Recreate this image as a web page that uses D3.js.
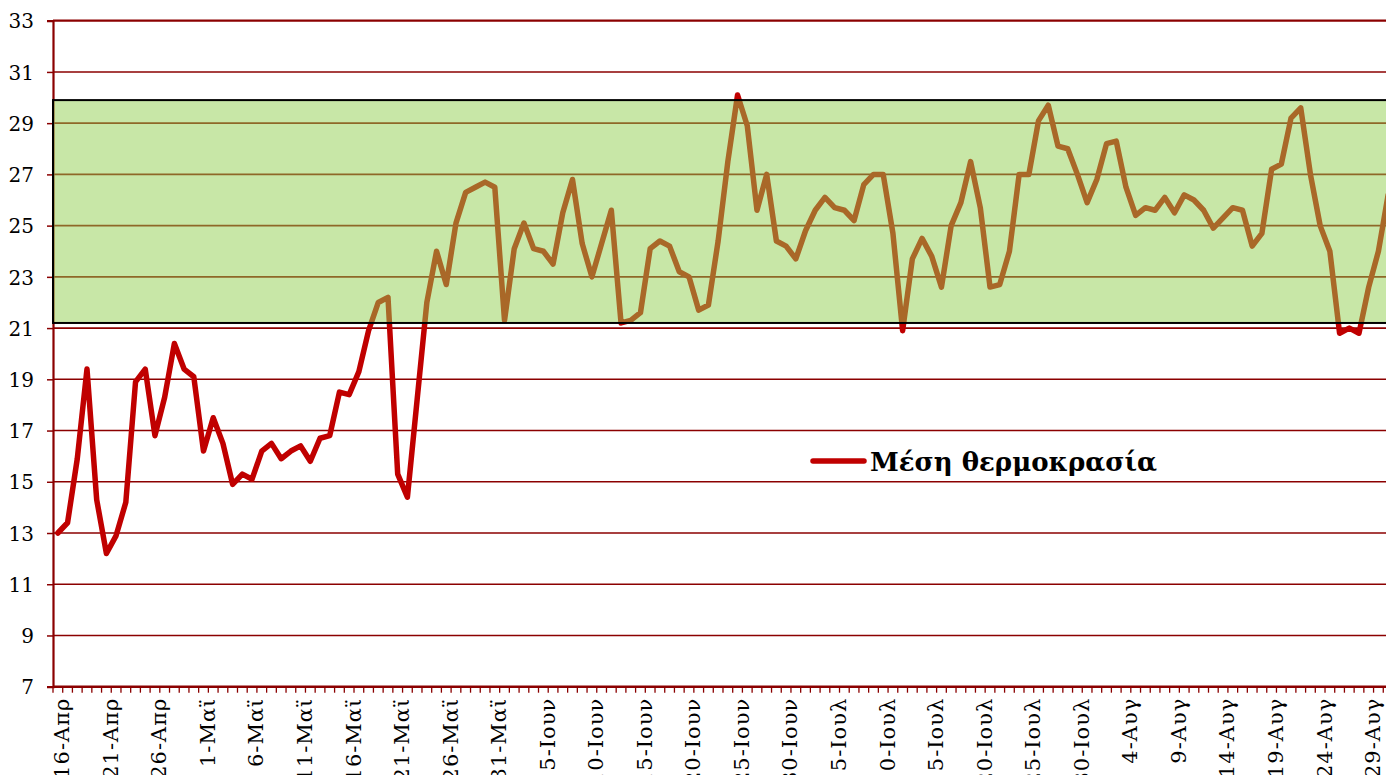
<!DOCTYPE html>
<html>
<head>
<meta charset="utf-8">
<script src="https://cdn.jsdelivr.net/npm/d3@7"></script>
<style>
    body { margin: 0; background: #fff; }
    svg { display: block; }
    .tickLabel text { font-family: "DejaVu Serif", serif; fill: #000; }
</style>
</head>
<body>
<svg></svg>
<script>
// daily mean temperature, 16 Apr -> 31 Aug
var startDate = new Date(2012, 3, 16);
var monthNames = ["Ιαν", "Φεβ", "Μαρ", "Απρ", "Μαϊ", "Ιουν", "Ιουλ", "Αυγ", "Σεπ", "Οκτ", "Νοε", "Δεκ"];
var temps = [
    13.0, 13.4, 15.9, 19.4, 14.3, 12.2, 12.9, 14.2, 18.9, 19.4,
    16.8, 18.3, 20.4, 19.4, 19.1, 16.2, 17.5, 16.5, 14.9, 15.3,
    15.1, 16.2, 16.5, 15.9, 16.2, 16.4, 15.8, 16.7, 16.8, 18.5,
    18.4, 19.3, 20.9, 22.0, 22.2, 15.3, 14.4, 18.2, 22.0, 24.0,
    22.7, 25.1, 26.3, 26.5, 26.7, 26.5, 21.3, 24.1, 25.1, 24.1,
    24.0, 23.5, 25.5, 26.8, 24.3, 23.0, 24.3, 25.6, 21.2, 21.3,
    21.6, 24.1, 24.4, 24.2, 23.2, 23.0, 21.7, 21.9, 24.4, 27.5,
    30.1, 28.9, 25.6, 27.0, 24.4, 24.2, 23.7, 24.8, 25.6, 26.1,
    25.7, 25.6, 25.2, 26.6, 27.0, 27.0, 24.7, 20.9, 23.7, 24.5,
    23.8, 22.6, 25.0, 25.9, 27.5, 25.7, 22.6, 22.7, 24.0, 27.0,
    27.0, 29.1, 29.7, 28.1, 28.0, 27.0, 25.9, 26.8, 28.2, 28.3,
    26.5, 25.4, 25.7, 25.6, 26.1, 25.5, 26.2, 26.0, 25.6, 24.9,
    25.3, 25.7, 25.6, 24.2, 24.7, 27.2, 27.4, 29.2, 29.6, 27.0,
    25.0, 24.0, 20.8, 21.0, 20.8, 22.6, 24.0, 26.2
];
var yTicks = [7, 9, 11, 13, 15, 17, 19, 21, 23, 25, 27, 29, 31, 33];
var comfortBand = [21.2, 29.9];
var seriesName = "Μέση θερμοκρασία";

var dates = temps.map(function (t, i) { return d3.timeDay.offset(startDate, i); });
var data = temps.map(function (t, i) { return { date: dates[i], t: t }; });

function fmtDate(d) {
    return d.getDate() + "-" + monthNames[d.getMonth()];
}

var svgWidth = 1386, svgHeight = 775;
var plotLeft = 53, plotTop = 20.7, plotBottom = 686.7;
var dayW = 9.71;

var svg = d3.select("svg")
    .attr("width", svgWidth)
    .attr("height", svgHeight);

var x = d3.scaleBand()
    .domain(dates)
    .range([plotLeft, plotLeft + dayW * dates.length])
    .padding(0);
var y = d3.scaleLinear().domain([7, 33]).range([plotBottom, plotTop]);

function cx(d) { return x(d) + x.bandwidth() / 2; }

// horizontal grid
svg.append("g")
    .selectAll("line")
    .data(yTicks.filter(function (v) { return v > 7; }))
    .enter()
    .append("line")
    .attr("x1", plotLeft)
    .attr("x2", svgWidth)
    .attr("y1", d => y(d))
    .attr("y2", d => y(d))
    .attr("stroke", "#8b0000")
    .attr("stroke-width", d => d === 33 ? 2.2 : 1.6);

// y axis
var yAxis = svg.append("g")
    .attr("class", "tickLabel")
    .attr("transform", "translate(" + plotLeft + ",0)")
    .call(d3.axisLeft(y).tickValues(yTicks).tickSize(6).tickPadding(13).tickFormat(d3.format("d")));
yAxis.select(".domain").attr("stroke", "#8b0000").attr("stroke-width", 2.2);
yAxis.selectAll(".tick line").attr("stroke", "#8b0000").attr("stroke-width", 1.5);
yAxis.selectAll(".tick text").attr("font-size", "20px").attr("dy", "0.36em");

// x axis : day ticks on category boundaries
svg.append("line")
    .attr("x1", plotLeft).attr("x2", svgWidth)
    .attr("y1", plotBottom).attr("y2", plotBottom)
    .attr("stroke", "#8b0000").attr("stroke-width", 2.4);

svg.append("g")
    .selectAll("line")
    .data(dates)
    .enter()
    .append("line")
    .attr("x1", d => x(d))
    .attr("x2", d => x(d))
    .attr("y1", plotBottom)
    .attr("y2", plotBottom + 6)
    .attr("stroke", "#8b0000")
    .attr("stroke-width", 1.3);

svg.append("g")
    .attr("class", "tickLabel")
    .selectAll("text")
    .data(dates.filter(function (d, i) { return i % 5 === 0; }))
    .enter()
    .append("text")
    .attr("transform", d => "translate(" + (cx(d) + 4) + "," + (plotBottom + 11) + ") rotate(-90)")
    .attr("text-anchor", "end")
    .attr("dy", "0.35em")
    .attr("font-size", "21px")
    .attr("letter-spacing", "1px")
    .text(fmtDate);

// temperature line
var line = d3.line()
    .x(d => cx(d.date))
    .y(d => y(d.t));

svg.append("path")
    .datum(data)
    .attr("d", line)
    .attr("fill", "none")
    .attr("stroke", "#c00000")
    .attr("stroke-width", 5.5)
    .attr("stroke-linejoin", "round")
    .attr("stroke-linecap", "round");

// comfort band (semi transparent)
svg.append("rect")
    .attr("x", plotLeft)
    .attr("y", y(comfortBand[1]))
    .attr("width", svgWidth - plotLeft + 10)
    .attr("height", y(comfortBand[0]) - y(comfortBand[1]))
    .attr("fill", "#92d050")
    .attr("fill-opacity", 0.5)
    .attr("stroke", "#000")
    .attr("stroke-width", 2);

// legend
var legend = svg.append("g").attr("transform", "translate(810,461)");
legend.append("line")
    .attr("x1", 3).attr("x2", 54)
    .attr("stroke", "#c00000")
    .attr("stroke-width", 5.5)
    .attr("stroke-linecap", "round");
legend.append("text")
    .attr("x", 60)
    .attr("y", 10)
    .attr("font-family", "DejaVu Serif, serif")
    .attr("font-weight", "bold")
    .attr("font-size", "26px")
    .text(seriesName);
</script>
</body>
</html>
